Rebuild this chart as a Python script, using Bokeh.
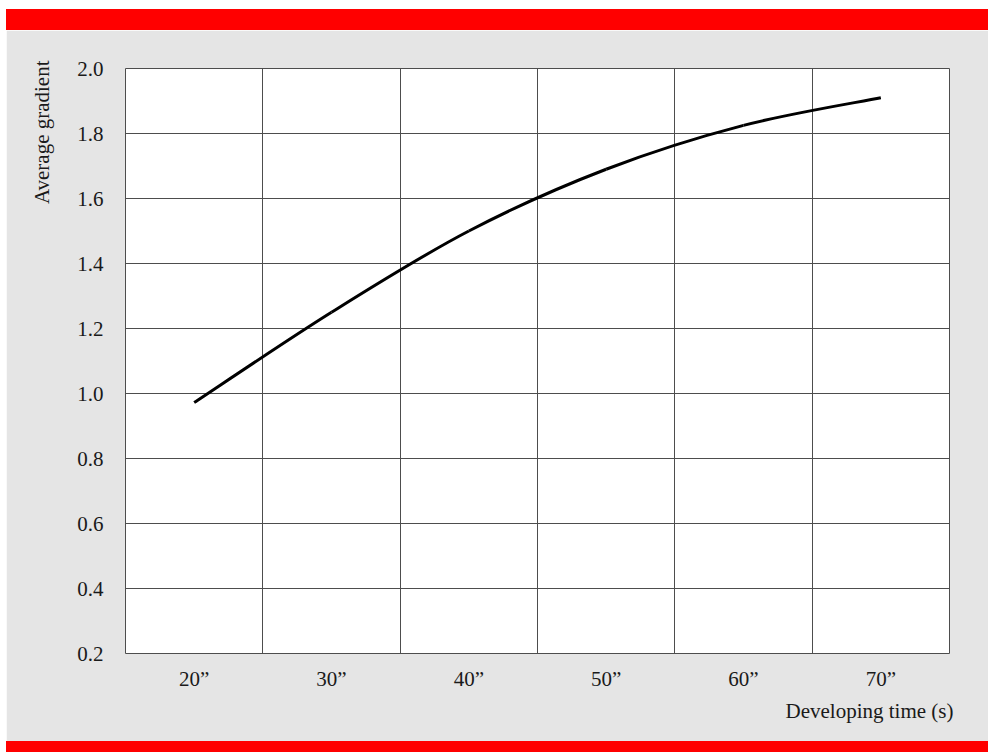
from bokeh.plotting import figure
from bokeh.layouts import column
from bokeh.models import FixedTicker, PrintfTickFormatter, Range1d, Title, Div
from bokeh.embed import file_html
from bokeh.resources import INLINE

# ---- data ----
categories = ['20\u201d', '30\u201d', '40\u201d', '50\u201d', '60\u201d', '70\u201d']
avg_gradient = [0.972, 1.25, 1.50, 1.69, 1.825, 1.91]
y_ticks = [0.2, 0.4, 0.6, 0.8, 1.0, 1.2, 1.4, 1.6, 1.8, 2.0]
x_label = "Developing time (s)"
y_label = "Average gradient"

BG = "#e5e5e5"
RED = "#ff0000"
GRID = "#4d4d4d"
TXT = "#1a1a1a"
FONT = "Liberation Serif"
FS = "21px"
W = 982

def band(h):
    return Div(text="", width=W, height=h,
               styles={"background-color": RED, "margin": "0", "padding": "0"})

top = band(21)
bottom = band(11)

n = len(categories)
xs = list(range(n))

p = figure(width=W, height=711, output_backend="svg", toolbar_location=None,
           x_range=Range1d(-0.5, n - 0.5), y_range=Range1d(y_ticks[0], y_ticks[-1]),
           min_border_left=119, min_border_right=39, min_border_top=38, min_border_bottom=88)
p.background_fill_color = "white"
p.border_fill_color = BG
p.outline_line_color = GRID
p.outline_line_width = 1

# axes
p.xaxis.ticker = FixedTicker(ticks=xs)
p.xaxis.major_label_overrides = {i: c for i, c in enumerate(categories)}
p.yaxis.ticker = FixedTicker(ticks=y_ticks)
p.yaxis.formatter = PrintfTickFormatter(format="%.1f")
for ax in (p.xaxis, p.yaxis):
    ax.axis_line_color = None
    ax.major_tick_line_color = None
    ax.minor_tick_line_color = None
    ax.major_tick_in = 0
    ax.major_tick_out = 0
    ax.major_label_text_font = FONT
    ax.major_label_text_font_size = FS
    ax.major_label_text_color = TXT
p.xaxis.major_label_standoff = 13
p.yaxis.major_label_standoff = 22

# grids: vertical lines between categories
p.xgrid.ticker = FixedTicker(ticks=[i + 0.5 for i in range(n - 1)])
p.ygrid.ticker = FixedTicker(ticks=y_ticks)
p.grid.grid_line_color = GRID
p.grid.grid_line_width = 1

# smoothed curve (Catmull-Rom control points from the data)
def cr(points, i):
    return points[max(0, min(len(points) - 1, i))]

x0, y0, x1, y1, cx0, cy0, cx1, cy1 = [], [], [], [], [], [], [], []
for i in range(n - 1):
    pm, pa, pb, pn = cr(xs, i - 1), xs[i], xs[i + 1], cr(xs, i + 2)
    qm, qa, qb, qn = cr(avg_gradient, i - 1), avg_gradient[i], avg_gradient[i + 1], cr(avg_gradient, i + 2)
    x0.append(pa); y0.append(qa); x1.append(pb); y1.append(qb)
    cx0.append(pa + (pb - pm) / 6); cy0.append(qa + (qb - qm) / 6)
    cx1.append(pb - (pn - pa) / 6); cy1.append(qb - (qn - qa) / 6)

p.bezier(x0=x0, y0=y0, x1=x1, y1=y1, cx0=cx0, cy0=cy0, cx1=cx1, cy1=cy1,
         line_color="black", line_width=3)

# axis titles
p.add_layout(Title(text=x_label, align="right", offset=-4, standoff=6,
                   text_font=FONT, text_font_size=FS, text_font_style="normal",
                   text_color=TXT), "below")
p.add_layout(Title(text=y_label, align="right", offset=-8, standoff=42,
                   text_font=FONT, text_font_size=FS, text_font_style="normal",
                   text_color=TXT), "left")

layout = column(top, p, bottom, spacing=0, margin=(9, 0, 0, 6))
open("out.html", "w").write(file_html(layout, INLINE))
